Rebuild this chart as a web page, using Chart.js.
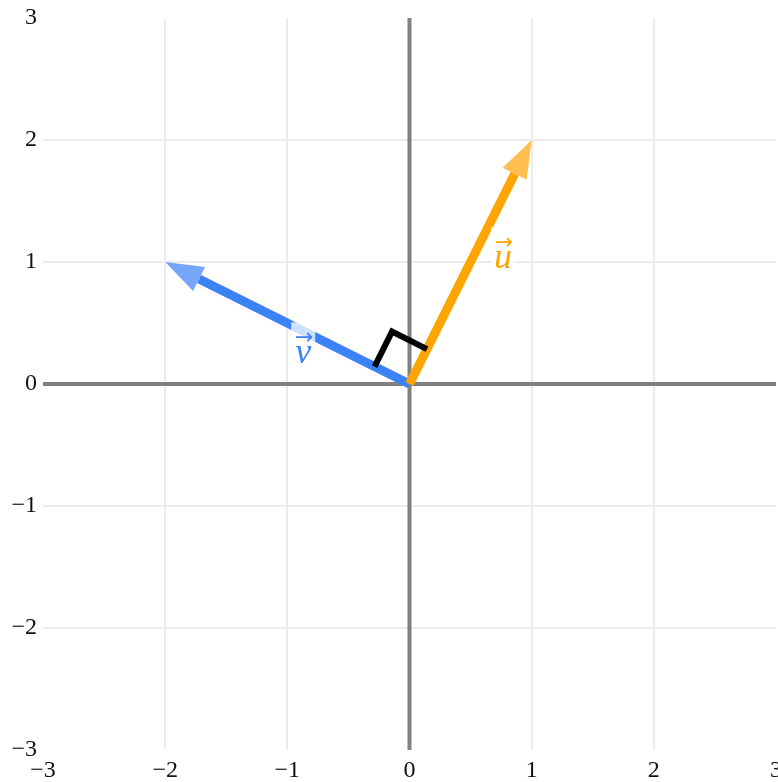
<!DOCTYPE html>
<html>
<head>
<meta charset="utf-8">
<script src="https://cdn.jsdelivr.net/npm/chart.js@4.4.1/dist/chart.umd.min.js"></script>
<style>
  html, body { margin: 0; padding: 0; background: #fff; }
  #wrap { width: 778px; height: 782px; }
</style>
</head>
<body>
<div id="wrap"><canvas id="chart"></canvas></div>
<script>
// ---- Datos ----
const axisTicks = [-3, -2, -1, 0, 1, 2, 3];
const vecNames = ['u', 'v'];
const vecX = [1, -2];
const vecY = [2, 1];
const vecColors = ['#ffa500', '#3b82f6'];
const headColors = ['#ffbf4f', '#76a6f9'];
const labelX = [0.765, -0.87];
const labelY = [0.95, 0.17];
const rightAngle = 0.32;
const headLen = 0.31;
const headHalf = 0.11;

// ---- Ejes (líneas del cero) ----
const datasets = [
  {
    label: 'x-axis',
    data: [{ x: axisTicks[0], y: 0 }, { x: axisTicks[axisTicks.length - 1], y: 0 }],
    borderColor: '#808080', borderWidth: 4, borderCapStyle: 'butt',
    pointRadius: 0, showLine: true, order: 100, clip: false
  },
  {
    label: 'y-axis',
    data: [{ x: 0, y: axisTicks[0] }, { x: 0, y: axisTicks[axisTicks.length - 1] }],
    borderColor: '#808080', borderWidth: 4, borderCapStyle: 'butt',
    pointRadius: 0, showLine: true, order: 99, clip: false
  }
];

// ---- Cuerpo + punta de cada vector ----
const unit = [];
vecNames.forEach((name, i) => {
  const len = Math.hypot(vecX[i], vecY[i]);
  const ux = vecX[i] / len;
  const uy = vecY[i] / len;
  unit.push([ux, uy]);
  const bx = vecX[i] - ux * headLen;
  const by = vecY[i] - uy * headLen;
  datasets.push({
    label: name,
    data: [{ x: 0, y: 0 }, { x: bx, y: by }],
    borderColor: vecColors[i],
    borderWidth: 9,
    borderCapStyle: 'butt',
    pointRadius: 0,
    showLine: true,
    order: 11 + i * 10
  });
  datasets.push({
    label: name + '-head',
    data: [
      { x: vecX[i], y: vecY[i] },
      { x: bx - uy * headHalf, y: by + ux * headHalf },
      { x: bx + uy * headHalf, y: by - ux * headHalf }
    ],
    borderColor: 'rgba(0,0,0,0)',
    backgroundColor: headColors[i],
    fill: 'shape',
    pointRadius: 0,
    showLine: true,
    order: 10 + i * 10
  });
});

// marca de ángulo recto
const [u0, v0] = unit;
datasets.push({
  label: 'right-angle',
  data: [
    { x: rightAngle * v0[0], y: rightAngle * v0[1] },
    { x: rightAngle * (u0[0] + v0[0]), y: rightAngle * (u0[1] + v0[1]) },
    { x: rightAngle * u0[0], y: rightAngle * u0[1] }
  ],
  borderColor: '#000',
  borderWidth: 6,
  borderJoinStyle: 'miter',
  borderCapStyle: 'butt',
  pointRadius: 0,
  showLine: true,
  order: 1
});

// ---- Etiquetas de los vectores ----
const vecLabelPlugin = {
  id: 'vecLabels',
  afterDatasetsDraw(chart) {
    const { ctx, scales: { x, y } } = chart;
    vecNames.forEach((name, i) => {
      const px = x.getPixelForValue(labelX[i]);
      const py = y.getPixelForValue(labelY[i]);
      ctx.save();
      ctx.fillStyle = 'rgba(255,255,255,0.75)';
      ctx.fillRect(px - 12, py - 41, 24, 37);
      ctx.fillStyle = vecColors[i];
      ctx.textAlign = 'center';
      ctx.textBaseline = 'alphabetic';
      ctx.font = 'italic 36px "Liberation Serif"';
      ctx.fillText(name, px, py);
      ctx.textBaseline = 'middle';
      ctx.font = '22px "DejaVu Sans"';
      ctx.fillText('\u2192', px + 1, py - 25);
      ctx.restore();
    });
  }
};

const fmt = v => (v < 0 ? '\u2212' + Math.abs(v) : String(v));
const gridColor = c => (c.tick.value === 0 || Math.abs(c.tick.value) === 3 ? 'rgba(0,0,0,0)' : '#ececec');
const tickFont = { family: '"Liberation Serif"', size: 24 };

new Chart(document.getElementById('chart'), {
  type: 'scatter',
  data: { datasets },
  options: {
    responsive: true,
    maintainAspectRatio: false,
    animation: false,
    layout: { padding: { top: 18, right: 2, left: 0, bottom: 0 } },
    plugins: { legend: { display: false }, tooltip: { enabled: false } },
    scales: {
      x: {
        type: 'linear',
        min: axisTicks[0],
        max: axisTicks[axisTicks.length - 1],
        afterBuildTicks: s => { s.ticks = axisTicks.map(v => ({ value: v })); },
        afterFit: s => { s.height = 32; s.paddingLeft = 0; s.paddingRight = 0; },
        border: { display: false },
        grid: { color: gridColor, lineWidth: 2, drawTicks: false },
        ticks: { callback: fmt, font: tickFont, color: '#111', padding: 6, maxRotation: 0, autoSkip: false }
      },
      y: {
        type: 'linear',
        min: axisTicks[0],
        max: axisTicks[axisTicks.length - 1],
        afterBuildTicks: s => { s.ticks = axisTicks.map(v => ({ value: v })); },
        afterFit: s => { s.width = 43; s.paddingTop = 0; s.paddingBottom = 0; },
        border: { display: false },
        grid: { color: gridColor, lineWidth: 2, drawTicks: false },
        ticks: { callback: fmt, font: tickFont, color: '#111', padding: 6, autoSkip: false }
      }
    }
  },
  plugins: [vecLabelPlugin]
});
</script>
</body>
</html>
